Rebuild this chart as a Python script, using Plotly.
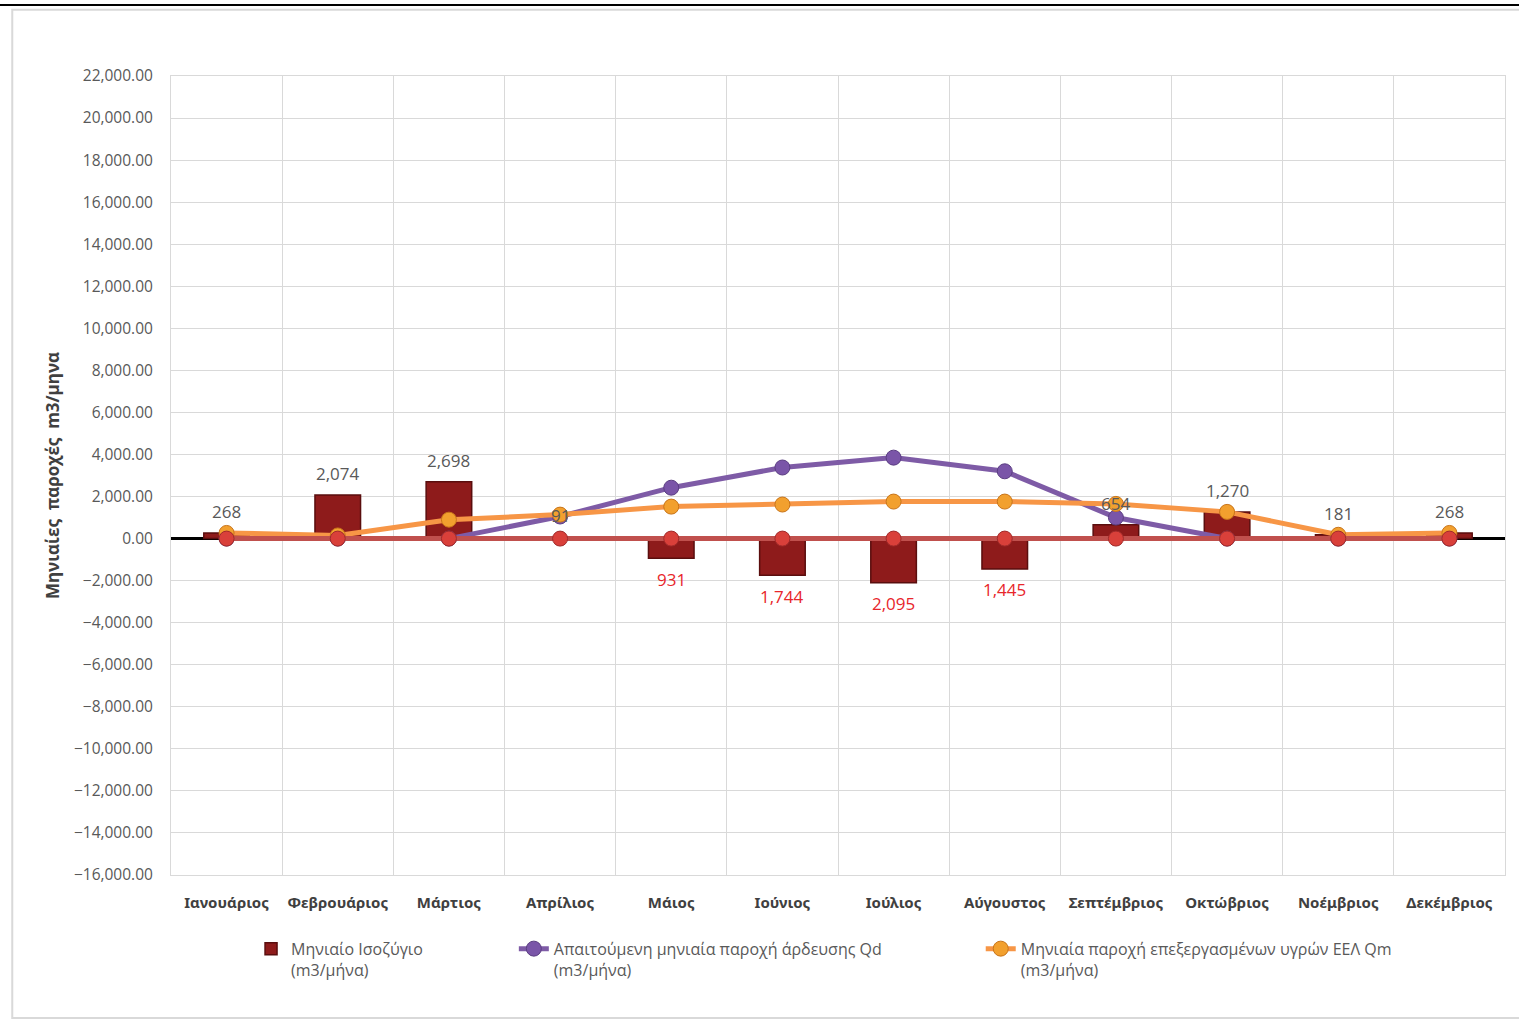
import plotly.graph_objects as go

months = ["Ιανουάριος", "Φεβρουάριος", "Μάρτιος", "Απρίλιος", "Μάιος", "Ιούνιος",
          "Ιούλιος", "Αύγουστος", "Σεπτέμβριος", "Οκτώβριος", "Νοέμβριος", "Δεκέμβριος"]
balance = [268, 2074, 2698, 91, -931, -1744, -2095, -1445, 654, 1270, 181, 268]
qd = [0, 0, 0, 1050, 2420, 3380, 3850, 3200, 1000, 0, 0, 0]
qm = [268, 150, 900, 1140, 1520, 1620, 1760, 1760, 1650, 1270, 181, 268]
zero_series = [0] * 12

name_bal = "Μηνιαίο Ισοζύγιο<br>(m3/μήνα)"
name_qd = "Απαιτούμενη μηνιαία παροχή άρδευσης Qd<br>(m3/μήνα)"
name_qm = "Μηνιαία παροχή επεξεργασμένων υγρών ΕΕΛ Qm<br>(m3/μήνα)"

FONT = "Open Sans"
GRAY = "#595959"

fig = go.Figure()
fig.add_trace(go.Bar(
    x=months, y=balance, name=name_bal, width=0.41,
    marker=dict(color="#8E1B1B", line=dict(color="#5A0E0E", width=1.5)),
    legend="legend",
))
fig.add_trace(go.Scatter(
    x=months, y=qd, name=name_qd, mode="lines+markers",
    line=dict(color="#7E5BA6", width=5),
    marker=dict(size=15, color="#7A55A8", line=dict(color="#5B3E82", width=1)),
    legend="legend2",
))
fig.add_trace(go.Scatter(
    x=months, y=qm, name=name_qm, mode="lines+markers",
    line=dict(color="#F79646", width=5),
    marker=dict(size=15, color="#F2A02E", line=dict(color="#C8741A", width=1)),
    legend="legend3",
))
fig.add_trace(go.Scatter(
    x=months, y=zero_series, name="", mode="lines+markers", showlegend=False,
    line=dict(color="#C0504D", width=5),
    marker=dict(size=15, color="#D9403A", line=dict(color="#A02A2A", width=1)),
))

# data labels for the balance bars
for m, v in zip(months, balance):
    pos = v >= 0
    fig.add_annotation(
        x=m, y=v, text=f"{abs(v):,.0f}", showarrow=False,
        yshift=21 if pos else -21,
        font=dict(family=FONT, size=17, color=GRAY if pos else "#E8262B"),
    )

legend_common = dict(orientation="h", font=dict(family=FONT, size=16, color=GRAY),
                     bgcolor="rgba(0,0,0,0)", yanchor="top", xanchor="left",
                     itemwidth=30, valign="top")

fig.update_layout(
    width=1519, height=1020,
    margin=dict(l=171, r=14, t=76, b=145),
    paper_bgcolor="white", plot_bgcolor="white",
    font=dict(family=FONT, color=GRAY),
    legend=dict(x=0.060, y=-0.071, **legend_common),
    legend2=dict(x=0.257, y=-0.071, **legend_common),
    legend3=dict(x=0.607, y=-0.071, **legend_common),
    xaxis=dict(
        type="category", tickson="boundaries", showgrid=True, gridcolor="#D9D9D9",
        range=[-0.5, 11.5], autorange=False,
        showline=True, linecolor="#D9D9D9", mirror=True, ticks="", tickangle=0,
        tickfont=dict(family="Noto Sans", size=15, color="#404040", weight="bold"),
        ticklabelstandoff=14,
    ),
    yaxis=dict(
        range=[-16000, 22000], dtick=2000, tickformat=",.2f",
        showgrid=True, gridcolor="#D9D9D9", showline=True, linecolor="#D9D9D9", mirror=True,
        zeroline=True, zerolinecolor="black", zerolinewidth=3,
        tickfont=dict(family=FONT, size=15.5, color=GRAY), ticks="", ticklabelstandoff=14,
        title=dict(text="Μηνιαίες  παροχές  m3/μηνα",
                   font=dict(family=FONT, size=17, color="#404040", weight="bold"),
                   standoff=9),
    ),
    showlegend=True,
)

# outer chart frame and top rule
fig.add_shape(type="rect", xref="paper", yref="paper", x0=-0.119, x1=1.02, y0=-0.179, y1=1.083,
              line=dict(color="#D9D9D9", width=2), layer="below")
fig.add_shape(type="line", xref="paper", yref="paper", x0=-0.13, x1=1.02, y0=1.089, y1=1.089,
              line=dict(color="black", width=2))

fig.write_html("out.html")
